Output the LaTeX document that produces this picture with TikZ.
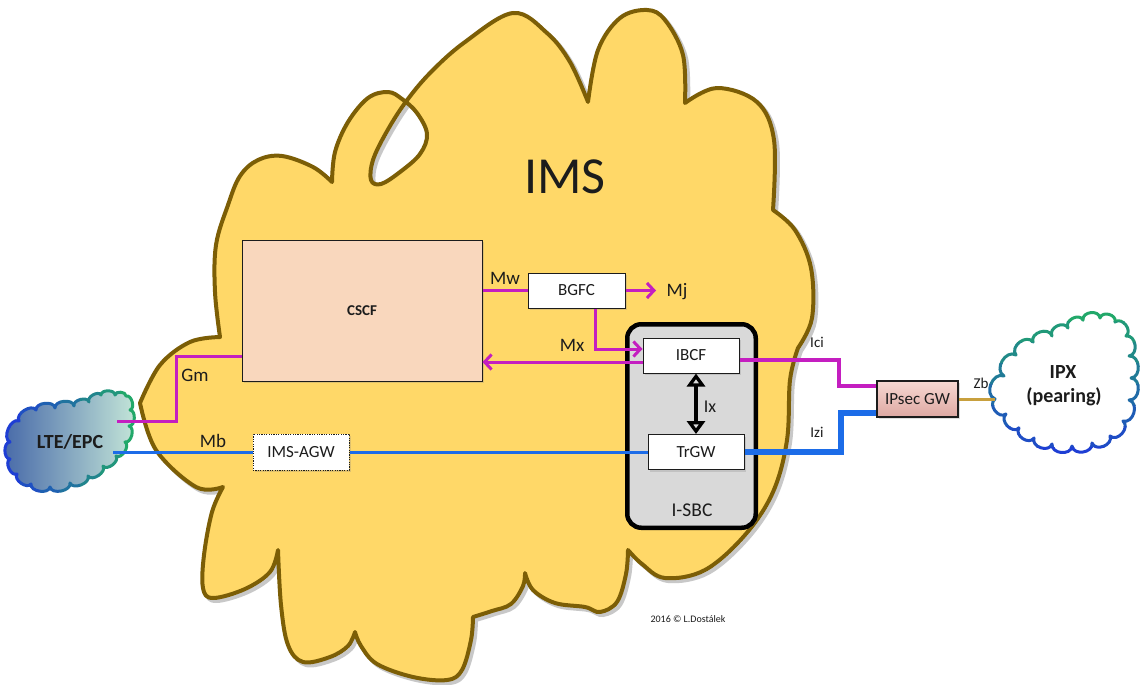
\documentclass[tikz,border=0pt]{standalone}
\usepackage{fontspec}
\setmainfont{Carlito}
\usetikzlibrary{arrows.meta,calc,shadows}

\definecolor{imsfill}{RGB}{255,216,104}
\definecolor{imsline}{RGB}{124,94,6}
\definecolor{cscffill}{RGB}{249,215,189}
\definecolor{sig}{RGB}{196,30,192}
\definecolor{media}{RGB}{28,108,232}
\definecolor{zbline}{RGB}{200,160,62}
\definecolor{sbcfill}{RGB}{217,217,217}
\definecolor{ink}{RGB}{28,28,28}
\definecolor{cloudgreen}{RGB}{34,168,106}
\definecolor{cloudblue}{RGB}{30,62,212}
\definecolor{ipsectop}{RGB}{246,216,210}
\definecolor{ipsecbot}{RGB}{222,168,162}
\definecolor{ltedark}{RGB}{70,104,168}
\definecolor{ltemid}{RGB}{112,166,170}
\definecolor{ltelight}{RGB}{196,230,216}

\newcommand\fs[1]{\fontsize{#1}{#1}\selectfont}

% outline of the IMS domain: smooth lobes joined at sharp notches
\newcommand\imsoutline{%
  plot[smooth,tension=0.6] coordinates {(220,337) (190,342) (160,365) (140,403)}
  -- plot[smooth,tension=0.6] coordinates {(140,403) (156,450) (196,487) (223,487)}
  -- plot[smooth,tension=0.6] coordinates {(223,487) (212,512) (204,555) (203,588) (213,598) (245,589) (270,572) (278,550)}
  -- plot[smooth,tension=0.6] coordinates {(278,550) (281,605) (288,645) (303,662) (330,657) (348,646) (355,632)}
  -- plot[smooth,tension=0.6] coordinates {(355,632) (361,646) (377,664) (413,677) (447,680) (462,670) (471,640) (473,617)}
  -- plot[smooth,tension=0.6] coordinates {(473,617) (492,611) (511,604) (523,586) (525,573)}
  -- plot[smooth,tension=0.6] coordinates {(525,573) (533,590) (555,603) (585,607) (600,612) (617,602) (626,574) (628,550)}
  -- plot[smooth,tension=0.6] coordinates {(628,550) (642,564) (665,578) (705,570) (745,535) (773,492) (787,440) (790,380) (798,348)}
  -- plot[smooth,tension=0.6] coordinates {(798,348) (812,318) (811,268) (795,230) (773,210)}
  -- plot[smooth,tension=0.6] coordinates {(773,210) (774,140) (757,102) (717,88) (685,103)}
  -- plot[smooth,tension=0.6] coordinates {(685,103) (683,55) (665,20) (647,10) (620,18) (598,50) (588,102)}
  -- plot[smooth,tension=0.6] coordinates {(588,102) (570,62) (547,33) (513,13) (465,42) (430,73) (405,103) (386,133) (373,160) (371,180) (381,184) (400,172) (420,154) (427,134) (417,113) (402,99) (388,92) (368,98) (348,122) (335,152) (332,182)}
  -- plot[smooth,tension=0.6] coordinates {(332,182) (313,167) (282,156) (258,160) (240,176) (228,205) (216,245) (215,292) (220,337)}
  -- cycle}

% scalloped cloud through the notch points <prefix>-1 ... <prefix>-<n>, clockwise
\newcommand\puffpath[3]{(#1-#2) \foreach \i [remember=\i as \k (initially #2)] in {1,...,#2}{ .. controls ($(#1-\k)!#3!90:(#1-\i)$) and ($(#1-\i)!#3!-90:(#1-\k)$) .. (#1-\i)} -- cycle}

\tikzset{ixtip/.tip={Triangle[open,length=13pt,width=18pt]}}

\begin{document}
\begin{tikzpicture}[x=1pt,y=-1pt,
  fbox/.style={draw=ink, line width=1pt, fill=white, minimum height=35pt, inner sep=0pt,
    font=\fs{17}, text=ink, drop shadow={shadow xshift=2pt, shadow yshift=-2pt, opacity=0.25}},
  lbl/.style={font=\fs{19}, text=ink, anchor=base, inner sep=0pt},
  sigline/.style={draw=sig, line width=3pt},
  sigarrow/.style={sigline, -{Straight Barb[length=7pt,width=15pt]}},
  medialine/.style={draw=media, line width=3pt},
  ]
\fill[white] (0,0) rectangle (1140,685);
\useasboundingbox (0,0) rectangle (1140,685);

% IMS domain
\draw[black!70, opacity=0.3, line width=4pt, shift={(3,3)}] \imsoutline;
\path[fill=imsfill, draw=imsline, line width=4pt, line join=round, even odd rule] \imsoutline;

% functional blocks
\node[fbox, fill=cscffill, minimum width=240pt, minimum height=141pt, font=\fs{15}\bfseries] (cscf) at (362,310.5) {CSCF};
\node[fbox, minimum width=97pt] (bgfc) at (576.5,290.5) {BGFC};
\node[draw=black, line width=4.5pt, fill=sbcfill, rounded corners=14pt, minimum width=128.5pt,
  minimum height=203.5pt, drop shadow={shadow xshift=2pt, shadow yshift=-2pt, opacity=0.25}] (sbc) at (691.5,426) {};
\node[lbl, font=\fs{19.5}] (sbclabel) at (692,516) {I-SBC};
\node[fbox, minimum width=96pt] (ibcf) at (691,355.5) {IBCF};
\node[fbox, minimum width=96pt] (trgw) at (696,452) {TrGW};
\node[fbox, minimum width=96pt, minimum height=36pt, dash pattern=on 1.2pt off 1.2pt] (agw) at (301,452) {IMS-AGW};
\node[fbox, minimum width=81pt, minimum height=36pt, top color=ipsectop, bottom color=ipsecbot, line width=1.6pt] (ipsec) at (917.5,399) {IPsec GW};

% LTE/EPC cloud
\foreach \x/\y [count=\i] in {10/442,19/421,36/410,55/408,74/406,89/402,101/395,115/395,126/396,130/410,129/426,125/442,116/456,103/466,88/476,70/483,50/487,31/484,17/474,10/459}
  \coordinate (lte-\i) at (\x,\y);
\shade[left color=ltedark, middle color=ltemid, right color=ltelight] \puffpath{lte}{20}{0.4};
\foreach \s in {0,...,6} {
  \pgfmathsetmacro\mix{100*\s/6}
  \begin{scope}
    \clip (\s*20,360) rectangle ++(20,145);
    \draw[line width=3pt, line join=round, draw=cloudgreen!\mix!cloudblue] \puffpath{lte}{20}{0.4};
  \end{scope}
}
\node[lbl, font=\fs{20}\bfseries] (ltetext) at (70,448) {LTE/EPC};

% IPX cloud
\foreach \x/\y [count=\i] in {995/399,1004/376,1016/355,1033/342,1052/336,1068/328,1083/320,1100/318,1115/322,1126/336,1129/356,1131/378,1129/400,1123/421,1110/436,1092/443,1072/446,1052/444,1034/438,1019/428,1006/414}
  \coordinate (ipx-\i) at (\x,\y);
\fill[white] \puffpath{ipx}{21}{0.5};
\foreach \s in {0,...,7} {
  \pgfmathsetmacro\mix{100*\s/7}
  \begin{scope}
    \clip (980,300+\s*21) rectangle ++(170,21);
    \draw[line width=3pt, line join=round, draw=cloudblue!\mix!cloudgreen] \puffpath{ipx}{21}{0.5};
  \end{scope}
}
\node[lbl, font=\fs{20}\bfseries] (ipxtext) at (1063,378) {IPX};
\node[lbl, font=\fs{20}\bfseries] (ipxtext2) at (1064,402) {(pearing)};

% reference points
\coordinate (lteGm) at (117,421);
\coordinate (lteMb) at (113,452);
\coordinate (mjend) at (656,290.5);
\coordinate (ibcfin) at ([yshift=-6.5pt]ibcf.west);

% signalling interfaces
\draw[sigline] (lteGm) -- ++(59,0) |- ([yshift=-45.5pt]cscf.west);
\draw[sigline] (cscf.east |- bgfc.west) -- (bgfc.west);
\draw[sigarrow] (bgfc.east) -- (mjend);
\draw[sigarrow] ([xshift=19pt]bgfc.south) |- ([yshift=6.5pt]ibcf.west);
\draw[sigarrow] (ibcfin) -- (ibcfin -| cscf.east);
\draw[sigline, line width=4pt] ([yshift=-4.5pt]ibcf.east) -- ++(99,0) |- ([yshift=13pt]ipsec.west);

% media interfaces
\draw[medialine] (lteMb) -- (agw.west);
\draw[medialine] (agw.east) -- (trgw.west);
\draw[medialine, line width=6pt] (trgw.east) -- ++(96,0) |- ([yshift=-14pt]ipsec.west);
\draw[draw=zbline, line width=3pt] (ipsec.east) -- (ipx-1);
\draw[line width=3.4pt, ixtip-ixtip] (trgw.north) -- (trgw.north |- ibcf.south);

% labels
\node[lbl, font=\fs{52}] (imslabel) at (565,193) {IMS};
\node[lbl] (mw) at (505,284) {Mw};
\node[lbl] (mj) at (677,296) {Mj};
\node[lbl] (mx) at (572,351) {Mx};
\node[lbl] (gm) at (195,381) {Gm};
\node[lbl] (mb) at (213,447) {Mb};
\node[lbl, font=\fs{18}] (ix) at (710,412) {Ix};
\node[lbl, font=\fs{15}] (ici) at (817,347) {Ici};
\node[lbl, font=\fs{15}] (izi) at (817,437) {Izi};
\node[lbl, font=\fs{15}] (zb) at (981,388) {Zb};
\node[lbl, font=\fs{10}] (copy) at (688,622) {2016 © L.Dostálek};
\end{tikzpicture}
\end{document}
